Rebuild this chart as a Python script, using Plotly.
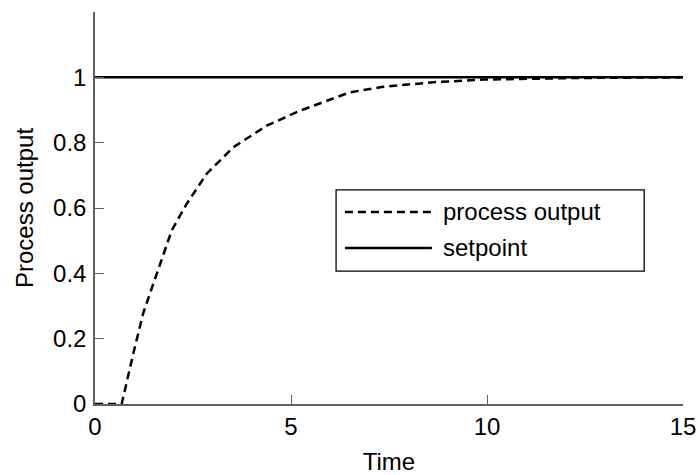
import plotly.graph_objects as go

# Data
time = [0.0, 0.68, 0.98, 1.23, 1.49, 1.74, 1.96, 2.34, 2.85, 3.53, 4.38, 5.23, 6.08, 6.5, 7.35, 8.63, 9.9, 12.3, 15.0]
process_output = [0.0, 0.0, 0.156, 0.278, 0.369, 0.456, 0.532, 0.613, 0.705, 0.786, 0.852, 0.898, 0.934, 0.954, 0.971, 0.985, 0.993, 0.998, 1.0]
setpoint_time = [0.0, 15.0]
setpoint = [1.0, 1.0]

x_ticks = [0, 5, 10, 15]
y_ticks = [0, 0.2, 0.4, 0.6, 0.8, 1]
y_tick_labels = ["0", "0.2", "0.4", "0.6", "0.8", "1"]

FONT = "Liberation Sans, Arial, Helvetica, sans-serif"
FS = 24
DASH = "8px,5px"

fig = go.Figure()
fig.add_trace(go.Scatter(x=setpoint_time, y=setpoint, mode="lines", name="setpoint",
                         line=dict(color="black", width=2.5), showlegend=False))
fig.add_trace(go.Scatter(x=time, y=process_output, mode="lines", name="process output",
                         line=dict(color="black", width=2.5, dash=DASH), showlegend=False))

axis_col = "#606060"
fig.update_xaxes(range=[0, 15], tickvals=x_ticks, ticks="inside", ticklen=9, tickwidth=1.3,
                 tickcolor=axis_col, showline=True, linecolor=axis_col, linewidth=1.5,
                 showgrid=False, zeroline=False, ticklabelstandoff=0, automargin=False,
                 tickfont=dict(family=FONT, size=FS, color="black"),
                 title=dict(text="Time", font=dict(family=FONT, size=FS, color="black"), standoff=18))
fig.update_yaxes(range=[0, 1.2], tickvals=y_ticks, ticktext=y_tick_labels, ticks="inside", ticklen=9,
                 tickwidth=1.3, tickcolor=axis_col, showline=True, linecolor=axis_col, linewidth=1.5,
                 showgrid=False, zeroline=False, ticklabelstandoff=2, automargin=False,
                 tickfont=dict(family=FONT, size=FS, color="black"),
                 title=dict(text="Process output", font=dict(family=FONT, size=FS, color="black"), standoff=13))

# Custom legend box (layout elements, paper coordinates)
box_x0, box_x1, box_y0, box_y1 = 0.41, 0.934, 0.339, 0.546
sample_x0, sample_x1 = 0.425, 0.573
row_y = [0.49, 0.398]
legend_labels = ["process output", "setpoint"]
legend_dash = [DASH, "solid"]

shapes = [dict(type="rect", xref="paper", yref="paper", x0=box_x0, x1=box_x1, y0=box_y0, y1=box_y1,
               line=dict(color="black", width=1.3), fillcolor="white", layer="above")]
annotations = []
for lbl, dsh, yy in zip(legend_labels, legend_dash, row_y):
    shapes.append(dict(type="line", xref="paper", yref="paper", x0=sample_x0, x1=sample_x1, y0=yy, y1=yy,
                       line=dict(color="black", width=2.5, dash=dsh), layer="above"))
    annotations.append(dict(xref="paper", yref="paper", x=0.588, y=yy, text=lbl, showarrow=False,
                            xanchor="left", yanchor="middle",
                            font=dict(family=FONT, size=FS, color="black")))

fig.update_layout(width=698, height=475, margin=dict(l=95, r=15, t=12, b=71),
                  plot_bgcolor="white", paper_bgcolor="white", showlegend=False,
                  shapes=shapes, annotations=annotations)

fig.write_html("out.html")
